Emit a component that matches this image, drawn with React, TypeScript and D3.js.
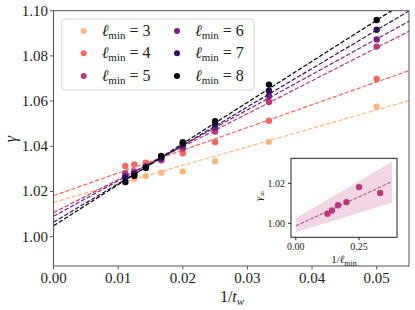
import React from "react";
import * as d3 from "d3";

const W = 415, H = 310;

// 1/t_w values (t_w = 90, 80, 70, 60, 50, 40, 30, 20)
const invTw = [1 / 90, 1 / 80, 1 / 70, 1 / 60, 1 / 50, 1 / 40, 1 / 30, 1 / 20];
const lmins = [3, 4, 5, 6, 7, 8];
const gammaL3 = [1.0243, 1.0255, 1.0268, 1.0283, 1.0289, 1.0334, 1.0420, 1.0575];
const gammaL4 = [1.0313, 1.0320, 1.0327, 1.0345, 1.0369, 1.0419, 1.0513, 1.0698];
const gammaL5 = [1.0281, 1.0288, 1.0312, 1.0338, 1.0390, 1.0465, 1.0596, 1.0841];
const gammaL6 = [1.0268, 1.0282, 1.0310, 1.0345, 1.0400, 1.0482, 1.0623, 1.0873];
const gammaL7 = [1.0262, 1.0275, 1.0306, 1.0350, 1.0410, 1.0497, 1.0646, 1.0916];
const gammaL8 = [1.0242, 1.0269, 1.0305, 1.0357, 1.0418, 1.0511, 1.0673, 1.0959];
const gammaSeries = [gammaL3, gammaL4, gammaL5, gammaL6, gammaL7, gammaL8];
// fitted lines gamma = gammaInf + slope / t_w
const gammaInf = [1.0152, 1.0181, 1.0106, 1.0090, 1.0064, 1.0048];
const slopes = [0.818, 1.007, 1.46, 1.57, 1.70, 1.82];
const colorT = [0.85, 0.68, 0.51, 0.34, 0.17, 0.0];

// inset extrapolation fit: gamma_inf = a + b / l_min, with band
const insetFitX = [0, 0.38];
const insetFitY = [0.9987, 1.0208];
const insetBandLo = [0.9955, 1.0103];
const insetBandHi = [1.0025, 1.0308];

const xTicks = [0, 0.01, 0.02, 0.03, 0.04, 0.05];
const yTicks = [1.0, 1.02, 1.04, 1.06, 1.08, 1.1];
const insetXTicks = [0, 0.25];
const insetYTicks = [1.0, 1.02];

const FONT = "'Liberation Serif', 'DejaVu Serif', serif";

export default function App() {
  const L = 53.5, R = 409, T = 10.7, B = 266;
  const x = d3.scaleLinear().domain([0, 0.055]).range([L, R]);
  const y = d3.scaleLinear().domain([0.987, 1.1]).range([B, T]);
  const colors = colorT.map((t) => d3.interpolateMagma(t));

  const iL = 291, iR = 397, iT = 158.3, iB = 237.3;
  const xi = d3.scaleLinear().domain([-0.019, 0.4]).range([iL, iR]);
  const yi = d3.scaleLinear().domain([0.993, 1.0325]).range([iB, iT]);
  const insetColor = d3.interpolateMagma(0.51);

  const fmt = d3.format(".2f");
  const line = d3.line<[number, number]>().x((d) => x(d[0])).y((d) => y(d[1]));
  const lineI = d3.line<[number, number]>().x((d) => xi(d[0])).y((d) => yi(d[1]));
  const band = d3
    .area<number>()
    .x((_, i) => xi(insetFitX[i]))
    .y0((_, i) => yi(insetBandLo[i]))
    .y1((_, i) => yi(insetBandHi[i]));

  const legendRows = [0, 1, 2];
  const legendX = [83.7, 177];
  const legendY = [31, 53.3, 76];

  return (
    <svg width={W} height={H} style={{ position: "absolute", left: 0, top: 0 }} fontFamily={FONT}>
      <defs>
        <clipPath id="plotclip">
          <rect x={L} y={T} width={R - L} height={B - T} />
        </clipPath>
      </defs>
      <rect x={0} y={0} width={W} height={H} fill="white" />

      {/* series */}
      <g clipPath="url(#plotclip)">
        {lmins.map((l, k) => (
          <g key={l}>
            {gammaSeries[k].map((g, i) => (
              <circle key={i} cx={x(invTw[i])} cy={y(g)} r={3.2} fill={colors[k]} />
            ))}
            <path
              d={line([
                [0, gammaInf[k]],
                [0.056, gammaInf[k] + slopes[k] * 0.056],
              ]) || ""}
              fill="none"
              stroke={colors[k]}
              strokeWidth={1.2}
              strokeDasharray="4.4,1.9"
            />
          </g>
        ))}
      </g>

      {/* main frame */}
      <rect x={L} y={T} width={R - L} height={B - T} fill="none" stroke="#555" strokeWidth={1} />
      {xTicks.map((t) => (
        <g key={t}>
          <line x1={x(t)} x2={x(t)} y1={B} y2={B + 3.5} stroke="#555" />
          <text x={x(t)} y={283} textAnchor="middle" fontSize={15} fill="#222">
            {fmt(t)}
          </text>
        </g>
      ))}
      {yTicks.map((t) => (
        <g key={t}>
          <line x1={L - 3.5} x2={L} y1={y(t)} y2={y(t)} stroke="#555" />
          <text x={48} y={y(t) + 5} textAnchor="end" fontSize={15} fill="#222">
            {fmt(t)}
          </text>
        </g>
      ))}
      <text x={232} y={302} textAnchor="middle" fontSize={16} fill="#222">
        1/<tspan fontStyle="italic">t</tspan>
        <tspan fontStyle="italic" fontSize={11} dy={3}>w</tspan>
      </text>
      <text
        transform={`translate(16,139) rotate(-90)`}
        textAnchor="middle"
        fontSize={16}
        fontStyle="italic"
        fill="#222"
      >
        γ
      </text>

      {/* legend */}
      <rect x={61.7} y={19} width={192.3} height={71} rx={3} fill="white" fillOpacity={0.85} stroke="#d6d6d6" strokeWidth={1} />
      {lmins.map((l, k) => {
        const col = Math.floor(k / 3);
        const row = legendRows[k % 3];
        const lx = legendX[col];
        const ly = legendY[row];
        return (
          <g key={l}>
            <circle cx={lx} cy={ly} r={3} fill={colors[k]} />
            <text x={lx + 18} y={ly + 5} fontSize={16} fill="#222">
              <tspan fontStyle="italic">ℓ</tspan>
              <tspan fontSize={11} dy={3}>min</tspan>
              <tspan dy={-3}> = {l}</tspan>
            </text>
          </g>
        );
      })}

      {/* inset */}
      <rect x={iL} y={iT} width={iR - iL} height={iB - iT} fill="white" stroke="none" />
      <path d={band([0, 1]) || ""} fill={insetColor} fillOpacity={0.2} />
      <path
        d={lineI([
          [insetFitX[0], insetFitY[0]],
          [insetFitX[1], insetFitY[1]],
        ]) || ""}
        fill="none"
        stroke={insetColor}
        strokeWidth={1}
        strokeDasharray="3.7,1.6"
      />
      {lmins.map((l, k) => (
        <circle key={l} cx={xi(1 / l)} cy={yi(gammaInf[k])} r={3.2} fill={insetColor} />
      ))}
      <rect x={iL} y={iT} width={iR - iL} height={iB - iT} fill="none" stroke="#222" strokeWidth={1} />
      {insetXTicks.map((t) => (
        <g key={t}>
          <line x1={xi(t)} x2={xi(t)} y1={iB} y2={iB + 3} stroke="#222" />
          <text x={xi(t)} y={250} textAnchor="middle" fontSize={10} fill="#222">
            {fmt(t)}
          </text>
        </g>
      ))}
      {insetYTicks.map((t) => (
        <g key={t}>
          <line x1={iL - 3} x2={iL} y1={yi(t)} y2={yi(t)} stroke="#222" />
          <text x={285} y={yi(t) + 3.5} textAnchor="end" fontSize={10} fill="#222">
            {fmt(t)}
          </text>
        </g>
      ))}
      <text x={344} y={263} textAnchor="middle" fontSize={11} fill="#222">
        1/<tspan fontStyle="italic">ℓ</tspan>
        <tspan fontSize={8} dy={2.5}>min</tspan>
      </text>
      <text transform={`translate(262,196) rotate(-90)`} textAnchor="middle" fontSize={11} fill="#222">
        <tspan fontStyle="italic">γ</tspan>
        <tspan fontSize={8} dy={2.5}>∞</tspan>
      </text>
    </svg>
  );
}
